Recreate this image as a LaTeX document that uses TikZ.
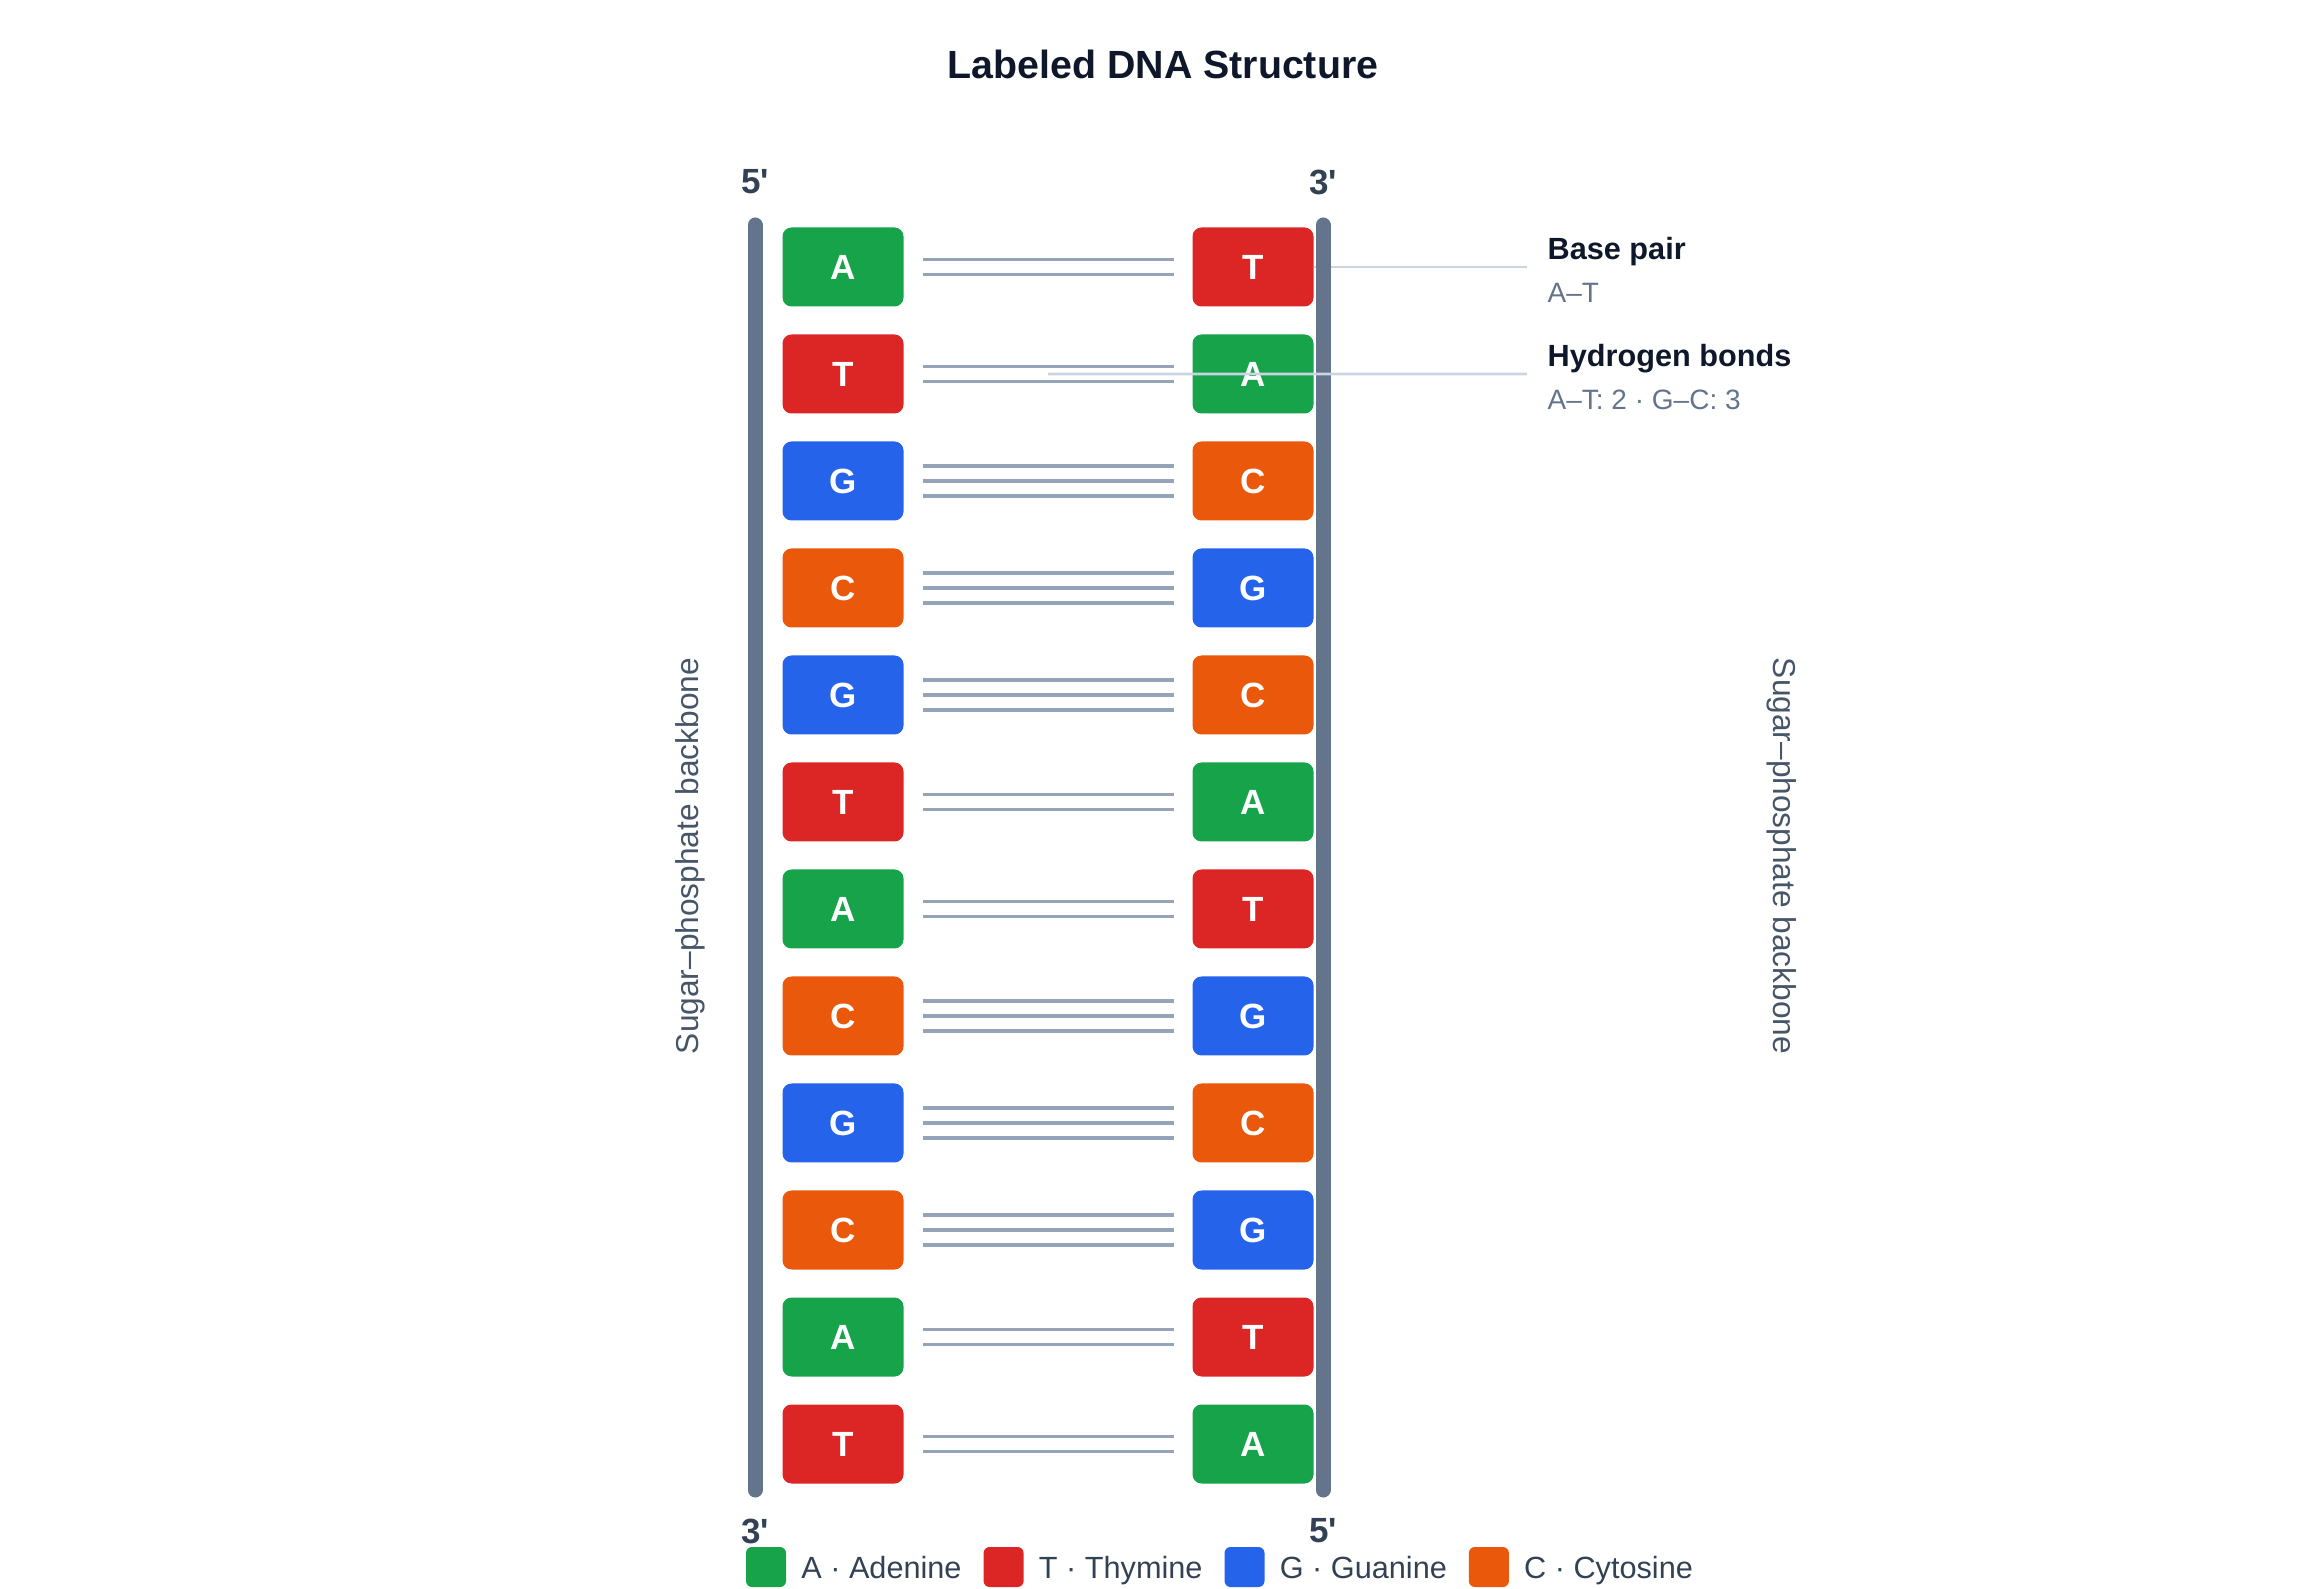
\documentclass[tikz,border=0pt]{standalone}
\usepackage{fontspec}
\setmainfont{Liberation Sans}
\usetikzlibrary{positioning}

\definecolor{adenine}{HTML}{16A34A}
\definecolor{thymine}{HTML}{DC2626}
\definecolor{guanine}{HTML}{2563EB}
\definecolor{cytosine}{HTML}{EA580C}
\definecolor{spinecol}{HTML}{64748B}
\definecolor{bondcol}{HTML}{94A3B8}
\definecolor{leadcol}{HTML}{CBD5E1}
\definecolor{ink}{HTML}{0F172A}
\definecolor{darkgray}{HTML}{334155}
\definecolor{midgray}{HTML}{475569}
\definecolor{subgray}{HTML}{64748B}

\begin{document}
\begin{tikzpicture}[x=0.3pt, y=-0.3pt,
    base/.style = {rounded corners=2.7pt, minimum width=36.3pt, minimum height=23.7pt, inner sep=0pt, outer sep=0pt, text=white, font=\fontsize{10.5}{12}\selectfont\bfseries},
    atbond/.style = {draw=bondcol, line width=1.05pt, double=white, double distance=3.45pt, shorten <=5.7pt, shorten >=5.7pt},
    gcbond/.style = {draw=bondcol, line width=1.05pt, shorten <=5.7pt, shorten >=5.7pt, preaction={draw=bondcol, line width=1.05pt, double=white, double distance=7.95pt}},
    spine/.style = {draw=spinecol, line width=4.5pt, line cap=round},
    leader/.style = {draw=leadcol, line width=0.8pt},
    prime/.style = {text=darkgray, font=\fontsize{10.5}{12}\selectfont\bfseries, inner sep=0pt},
    side/.style = {text=midgray, font=\fontsize{9.5}{11}\selectfont, inner sep=0pt},
    note/.style = {text=ink, font=\fontsize{9.2}{11}\selectfont\bfseries, inner sep=0pt, anchor=base west},
    sub/.style = {text=subgray, font=\fontsize{8.4}{10}\selectfont, inner sep=0pt, anchor=base west},
    key/.style = {rounded corners=1.8pt, minimum size=12pt, inner sep=0pt, outer sep=0pt},
    keytext/.style = {text=darkgray, font=\fontsize{9.2}{11}\selectfont, inner sep=0pt, outer sep=0pt, text height=6.6pt, text depth=0pt}]
    \useasboundingbox (0,0) rectangle (2322,1589);

    \node[text=ink, font=\fontsize{11.8}{14}\selectfont\bfseries] (title) at (1163,64) {Labeled DNA Structure};

    % strand ends
    \node[prime] (p1) at (755,182) {5\textquotesingle};
    \node[prime] (p2) at (1323,182) {3\textquotesingle};
    \node[prime] (p3) at (755,1531) {3\textquotesingle};
    \node[prime] (p4) at (1323,1531) {5\textquotesingle};

    % left strand
    \node[base, fill=adenine] (l1) at (843,267) {A};
    \node[base, fill=thymine, below=8.4pt of l1] (l2) {T};
    \node[base, fill=guanine, below=8.4pt of l2] (l3) {G};
    \node[base, fill=cytosine, below=8.4pt of l3] (l4) {C};
    \node[base, fill=guanine, below=8.4pt of l4] (l5) {G};
    \node[base, fill=thymine, below=8.4pt of l5] (l6) {T};
    \node[base, fill=adenine, below=8.4pt of l6] (l7) {A};
    \node[base, fill=cytosine, below=8.4pt of l7] (l8) {C};
    \node[base, fill=guanine, below=8.4pt of l8] (l9) {G};
    \node[base, fill=cytosine, below=8.4pt of l9] (l10) {C};
    \node[base, fill=adenine, below=8.4pt of l10] (l11) {A};
    \node[base, fill=thymine, below=8.4pt of l11] (l12) {T};

    % right strand
    \node[base, fill=thymine, right=86.7pt of l1] (r1) {T};
    \node[base, fill=adenine, below=8.4pt of r1] (r2) {A};
    \node[base, fill=cytosine, below=8.4pt of r2] (r3) {C};
    \node[base, fill=guanine, below=8.4pt of r3] (r4) {G};
    \node[base, fill=cytosine, below=8.4pt of r4] (r5) {C};
    \node[base, fill=adenine, below=8.4pt of r5] (r6) {A};
    \node[base, fill=thymine, below=8.4pt of r6] (r7) {T};
    \node[base, fill=guanine, below=8.4pt of r7] (r8) {G};
    \node[base, fill=cytosine, below=8.4pt of r8] (r9) {C};
    \node[base, fill=guanine, below=8.4pt of r9] (r10) {G};
    \node[base, fill=thymine, below=8.4pt of r10] (r11) {T};
    \node[base, fill=adenine, below=8.4pt of r11] (r12) {A};

    % base pair leader sits under the backbone
    \coordinate (bpend) at (1527,267);
    \draw[leader] (r1.east) -- (bpend);

    % backbones
    \coordinate (lt) at (755,225);
    \coordinate (lb) at (755,1490);
    \coordinate (rt) at (1323,225);
    \coordinate (rb) at (1323,1490);
    \draw[spine] (lt) -- (lb);
    \draw[spine] (rt) -- (rb);
    \node[side, rotate=90] (sl) at (690,856) {Sugar–phosphate backbone};
    \node[side, rotate=-90] (sr) at (1782,856) {Sugar–phosphate backbone};

    % hydrogen bonds
    \draw[atbond] (l1) -- (r1);
    \draw[atbond] (l2) -- coordinate[midway] (hb) (r2);
    \draw[gcbond] (l3) -- (r3);
    \draw[gcbond] (l4) -- (r4);
    \draw[gcbond] (l5) -- (r5);
    \draw[atbond] (l6) -- (r6);
    \draw[atbond] (l7) -- (r7);
    \draw[gcbond] (l8) -- (r8);
    \draw[gcbond] (l9) -- (r9);
    \draw[gcbond] (l10) -- (r10);
    \draw[atbond] (l11) -- (r11);
    \draw[atbond] (l12) -- (r12);

    % callouts
    \coordinate (hbend) at (1527,374);
    \draw[leader] (hb) -- (hbend);
    \node[note] (bp) at (1547,260) {Base pair};
    \node[sub] (bps) at (1547,303) {A–T};
    \node[note] (hbn) at (1547,367) {Hydrogen bonds};
    \node[sub] (hbs) at (1547,410) {A–T: 2 · G–C: 3};

    % legend
    \node[key, fill=adenine] (k1) at (766,1567) {};
    \node[keytext, right=4.6pt of k1] (k1t) {A · Adenine};
    \node[key, fill=thymine, right=6.6pt of k1t] (k2) {};
    \node[keytext, right=4.6pt of k2] (k2t) {T · Thymine};
    \node[key, fill=guanine, right=6.6pt of k2t] (k3) {};
    \node[keytext, right=4.6pt of k3] (k3t) {G · Guanine};
    \node[key, fill=cytosine, right=6.6pt of k3t] (k4) {};
    \node[keytext, right=4.6pt of k4] (k4t) {C · Cytosine};
\end{tikzpicture}
\end{document}
